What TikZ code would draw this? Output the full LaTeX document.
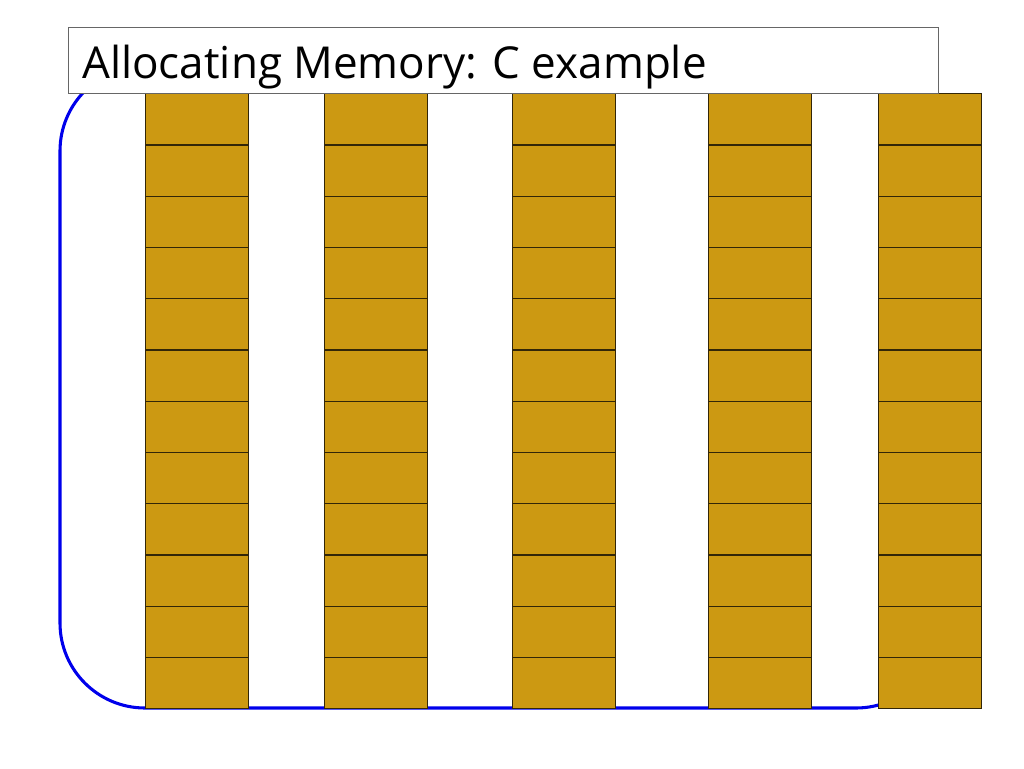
\documentclass[tikz,border=0pt]{standalone}
\usepackage{fontspec}
\setmainfont{Open Sans}
\definecolor{cellgold}{RGB}{204,153,18}
\definecolor{celledge}{RGB}{50,38,8}
\definecolor{memblue}{RGB}{0,0,235}
\tikzset{
  cell/.style={draw=celledge, fill=cellgold, line width=1pt, inner sep=0pt,
    minimum width=76.9pt, minimum height=38.44pt, anchor=north west},
  titlebox/.style={draw=gray!80!black, fill=white, line width=0.8pt, inner sep=0pt,
    minimum width=652.5pt, minimum height=49.5pt, anchor=north west}
}
\begin{document}
\begin{tikzpicture}[x=0.75pt, y=-0.75pt]
  \useasboundingbox (0,0) rectangle (1024,768);
  % memory outline
  \coordinate (M1) at (60,66);
  \coordinate (M2) at (941,708);
  \draw [memblue, line width=2.3pt, rounded corners=63.75pt] (M1) rectangle (M2);
  % memory cells
  \foreach \c/\x in {1/145, 2/324, 3/512, 4/708, 5/878} {
    \foreach \r in {0,...,11} {
      \node[cell] (cell-\c-\r) at (\x, 93+51.25*\r) {};
    }
  }
  % title
  \node[titlebox] (title) at (68,27) {};
  \node[anchor=base west, inner sep=0pt, font=\fontsize{33}{38}\selectfont] (titletext) at (82,78) {Allocating Memory: C example};
\end{tikzpicture}
\end{document}
